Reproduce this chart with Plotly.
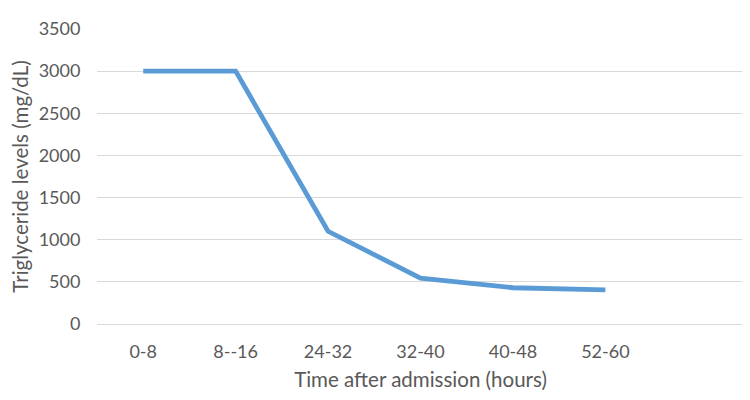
import plotly.graph_objects as go

# data
time_windows = ['0-8', '8--16', '24-32', '32-40', '40-48', '52-60']
triglyceride = [3000, 3000, 1100, 545, 430, 405]
y_ticks = [0, 500, 1000, 1500, 2000, 2500, 3000, 3500]

font_color = '#595959'
grid_color = '#d9d9d9'

fig = go.Figure()
fig.add_trace(go.Scatter(x=time_windows,
                         y=triglyceride,
                         mode='lines',
                         line=dict(color='#5b9bd5', width=4.8),
                         showlegend=False,
                         name='Triglyceride'))

# page body adds an 8px offset, so margins are shrunk by 8 on left/top
fig.update_layout(width=742, height=392,
                  margin=dict(l=89, r=6, t=21, b=76),
                  paper_bgcolor='white',
                  plot_bgcolor='white',
                  font=dict(family='Lato, Open Sans, sans-serif', size=18, color=font_color))

fig.update_xaxes(type='category',
                 categoryarray=time_windows,
                 range=[-0.5, 6.5],
                 showgrid=False,
                 showline=False,
                 automargin=False,
                 ticks='outside', ticklen=11, tickcolor='rgba(0,0,0,0)',
                 title=dict(text='Time after admission (hours)', standoff=12,
                            font=dict(size=20.5, color=font_color)))
fig.update_yaxes(range=[0, 3500],
                 tickvals=y_ticks,
                 showgrid=True, gridcolor=grid_color, gridwidth=1,
                 zeroline=True, zerolinecolor=grid_color, zerolinewidth=1,
                 showline=False,
                 automargin=False,
                 ticks='outside', ticklen=12, tickcolor='rgba(0,0,0,0)',
                 title=dict(text='Triglyceride levels (mg/dL)', standoff=10,
                            font=dict(size=20.5, color=font_color)))

fig.write_html("out.html")
